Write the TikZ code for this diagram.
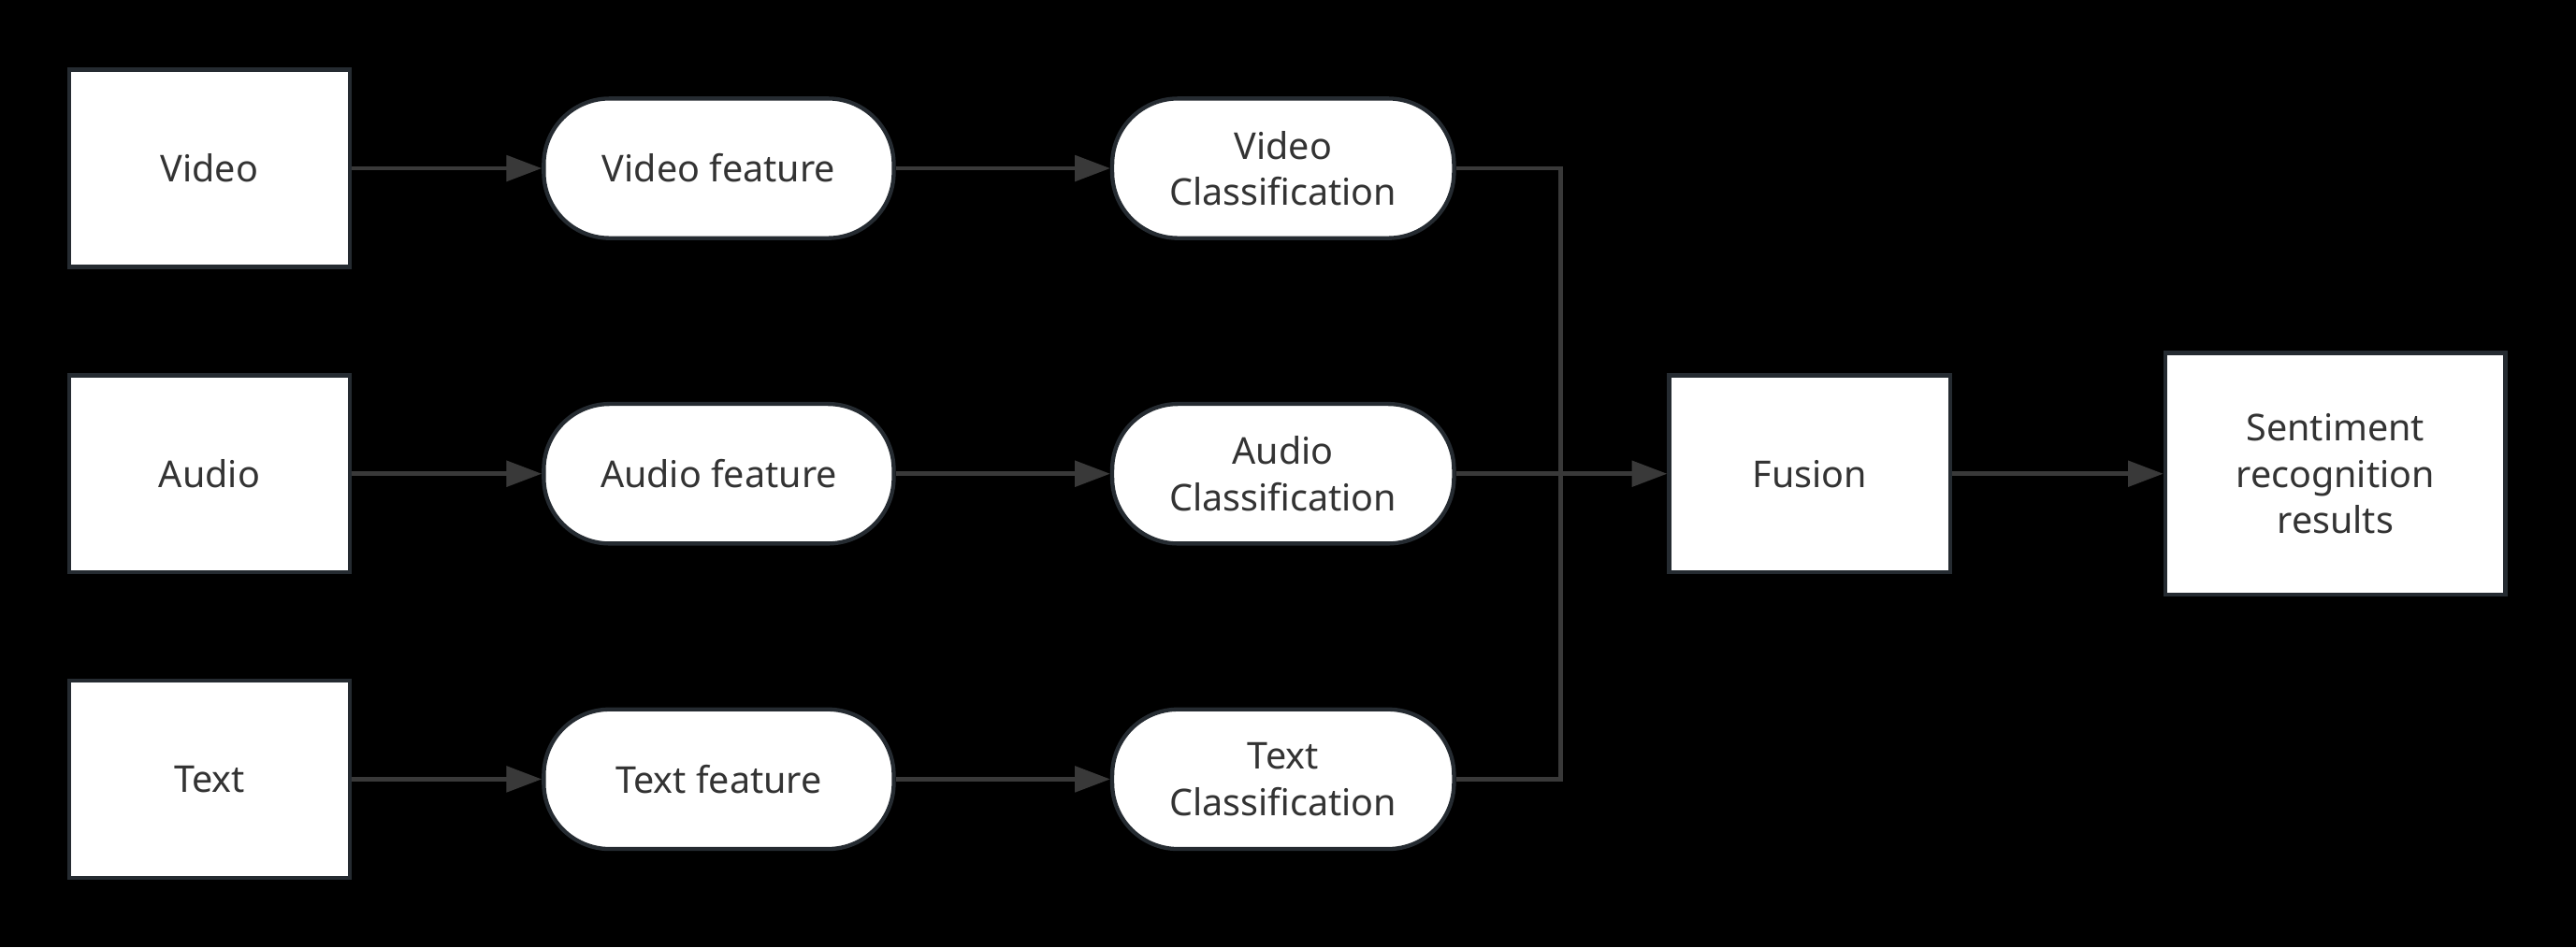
\documentclass[tikz,border=0pt]{standalone}
\usepackage{fontspec}
\setmainfont{Noto Sans}
\usetikzlibrary{arrows.meta}
\definecolor{edgegray}{HTML}{252B31}
\definecolor{linegray}{HTML}{393939}
\definecolor{textgray}{HTML}{333333}

\begin{document}
\begin{tikzpicture}[
  font=\fontsize{12.8}{16}\selectfont, text=textgray,
  databox/.style={draw=edgegray, line width=1.4pt, fill=white, minimum width=3.42cm, minimum height=2.4cm, align=center, inner sep=0pt},
  roundbox/.style={draw=edgegray, line width=1.4pt, fill=white, rounded corners=0.8cm, minimum height=1.7cm, align=center, inner sep=0pt},
  flow/.style={draw=linegray, line width=1.5pt},
  arrowflow/.style={flow, -{Triangle[length=0.43cm, width=0.31cm]}}
]

\fill[black] (0,0) rectangle (31.36,-11.54);
\useasboundingbox (0,0) rectangle (31.36,-11.54);

% inputs
\node[databox] (video) at (2.55,-2.05) {Video};
\node[databox] (audio) at (2.55,-5.77) {Audio};
\node[databox] (text)  at (2.55,-9.49) {Text};

% features
\node[roundbox, minimum width=4.26cm] (vfeat) at (8.75,-2.05) {Video feature};
\node[roundbox, minimum width=4.26cm] (afeat) at (8.75,-5.77) {Audio feature};
\node[roundbox, minimum width=4.26cm] (tfeat) at (8.75,-9.49) {Text feature};

% classifiers
\node[roundbox, minimum width=4.16cm] (vcls) at (15.62,-2.05) {Video\\Classification};
\node[roundbox, minimum width=4.16cm] (acls) at (15.62,-5.77) {Audio\\Classification};
\node[roundbox, minimum width=4.16cm] (tcls) at (15.62,-9.49) {Text\\Classification};

% fusion and result
\node[databox] (fusion) at (22.03,-5.77) {Fusion};
\node[databox, minimum width=4.14cm, minimum height=2.94cm] (result) at (28.43,-5.77) {Sentiment\\recognition\\results};

\coordinate (merge) at (19.0,-5.77);

\draw[arrowflow] (video) -- (vfeat);
\draw[arrowflow] (audio) -- (afeat);
\draw[arrowflow] (text) -- (tfeat);

\draw[arrowflow] (vfeat) -- (vcls);
\draw[arrowflow] (afeat) -- (acls);
\draw[arrowflow] (tfeat) -- (tcls);

\draw[flow] (vcls.east) -| (merge);
\draw[flow] (tcls.east) -| (merge);
\draw[arrowflow] (acls) -- (fusion);

\draw[arrowflow] (fusion) -- (result);

\end{tikzpicture}
\end{document}
